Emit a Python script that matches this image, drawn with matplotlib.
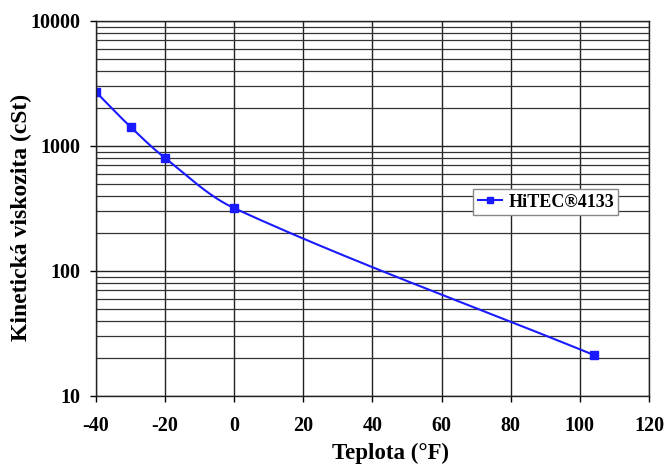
import numpy as np
import matplotlib.pyplot as plt
from matplotlib.ticker import FixedLocator, LogLocator, NullFormatter

# Viscosity data
temp_f = [-40, -30, -20, 0, 104]
viscosity = [2700, 1420, 800, 318, 21.3]
series_name = 'HiTEC®4133'

x_ticks = [-40, -20, 0, 20, 40, 60, 80, 100, 120]
y_ticks = [10, 100, 1000, 10000]


def smooth_curve(xs, ys, n=40):
    # chord-length cardinal spline, done in screen-like units (x, log10 y)
    kx, ky = 3.456, 125.5
    p = np.column_stack([np.array(xs, float) * kx,
                         np.log10(np.array(ys, float)) * ky])
    d = np.linalg.norm(np.diff(p, axis=0), axis=1)
    m = np.zeros_like(p)
    m[0] = (p[1] - p[0]) / d[0]
    m[-1] = (p[-1] - p[-2]) / d[-1]
    for i in range(1, len(p) - 1):
        m[i] = (p[i + 1] - p[i - 1]) / (d[i - 1] + d[i])
    t = np.linspace(0, 1, n)[:, None]
    pts = []
    for i in range(len(p) - 1):
        c1 = p[i] + m[i] * d[i] / 3
        c2 = p[i + 1] - m[i + 1] * d[i] / 3
        seg = ((1 - t) ** 3 * p[i] + 3 * (1 - t) ** 2 * t * c1
               + 3 * (1 - t) * t ** 2 * c2 + t ** 3 * p[i + 1])
        pts.append(seg)
    pts = np.vstack(pts)
    return pts[:, 0] / kx, 10 ** (pts[:, 1] / ky)


plt.rcParams['font.family'] = ['Liberation Serif', 'DejaVu Serif']
plt.rcParams['font.weight'] = 'bold'

fig = plt.figure(figsize=(6.69, 4.69), dpi=100)
ax = fig.add_axes([0.1435, 0.1557, 0.8266, 0.7996])

blue = '#1a1aff'
cx, cy = smooth_curve(temp_f, viscosity)
ax.plot(cx, cy, color=blue, linewidth=1.5)
ax.plot(temp_f, viscosity, linestyle='none', marker='s', markersize=5.5,
        color=blue)
# proxy artist for the legend (line + marker)
ax.plot([], [], color=blue, linewidth=1.5, marker='s', markersize=4.5,
        label=series_name)

ax.set_yscale('log')
ax.set_xlim(-40, 120)
ax.set_ylim(10, 10000)
ax.xaxis.set_major_locator(FixedLocator(x_ticks))
ax.yaxis.set_major_locator(FixedLocator(y_ticks))
ax.yaxis.set_minor_locator(LogLocator(base=10, subs=range(2, 10)))
ax.yaxis.set_minor_formatter(NullFormatter())
ax.set_yticklabels([str(v) for v in y_ticks])
ax.set_xticklabels([str(v) for v in x_ticks])

ax.grid(True, which='major', color='#222222', linewidth=1.0)
ax.grid(True, which='minor', axis='y', color='#333333', linewidth=0.9)
ax.tick_params(axis='both', which='major', direction='out', length=4.5,
               width=1, labelsize=14.5)
ax.tick_params(axis='x', pad=10)
ax.tick_params(axis='y', pad=7)
ax.tick_params(axis='y', which='minor', length=0)
for s in ax.spines.values():
    s.set_color('#222222')
    s.set_linewidth(1.0)

ax.set_xlabel('Teplota (°F)', fontsize=16.5, fontweight='bold')
ax.set_ylabel('Kinetická viskozita (cSt)', fontsize=17, fontweight='bold')
ax.xaxis.set_label_coords(0.533, -0.125)
ax.yaxis.set_label_coords(-0.134, 0.477)
ax.yaxis.label.set_va('center')

leg = ax.legend(loc='upper left', bbox_to_anchor=(473 / 669, 1 - 189 / 469),
                bbox_transform=fig.transFigure, borderaxespad=0,
                fontsize=13, fancybox=False, framealpha=1,
                edgecolor='#888888', handlelength=1.35, handletextpad=0.35,
                borderpad=0.25)
leg.get_frame().set_linewidth(1.0)

fig.savefig('out.png', dpi=100)
